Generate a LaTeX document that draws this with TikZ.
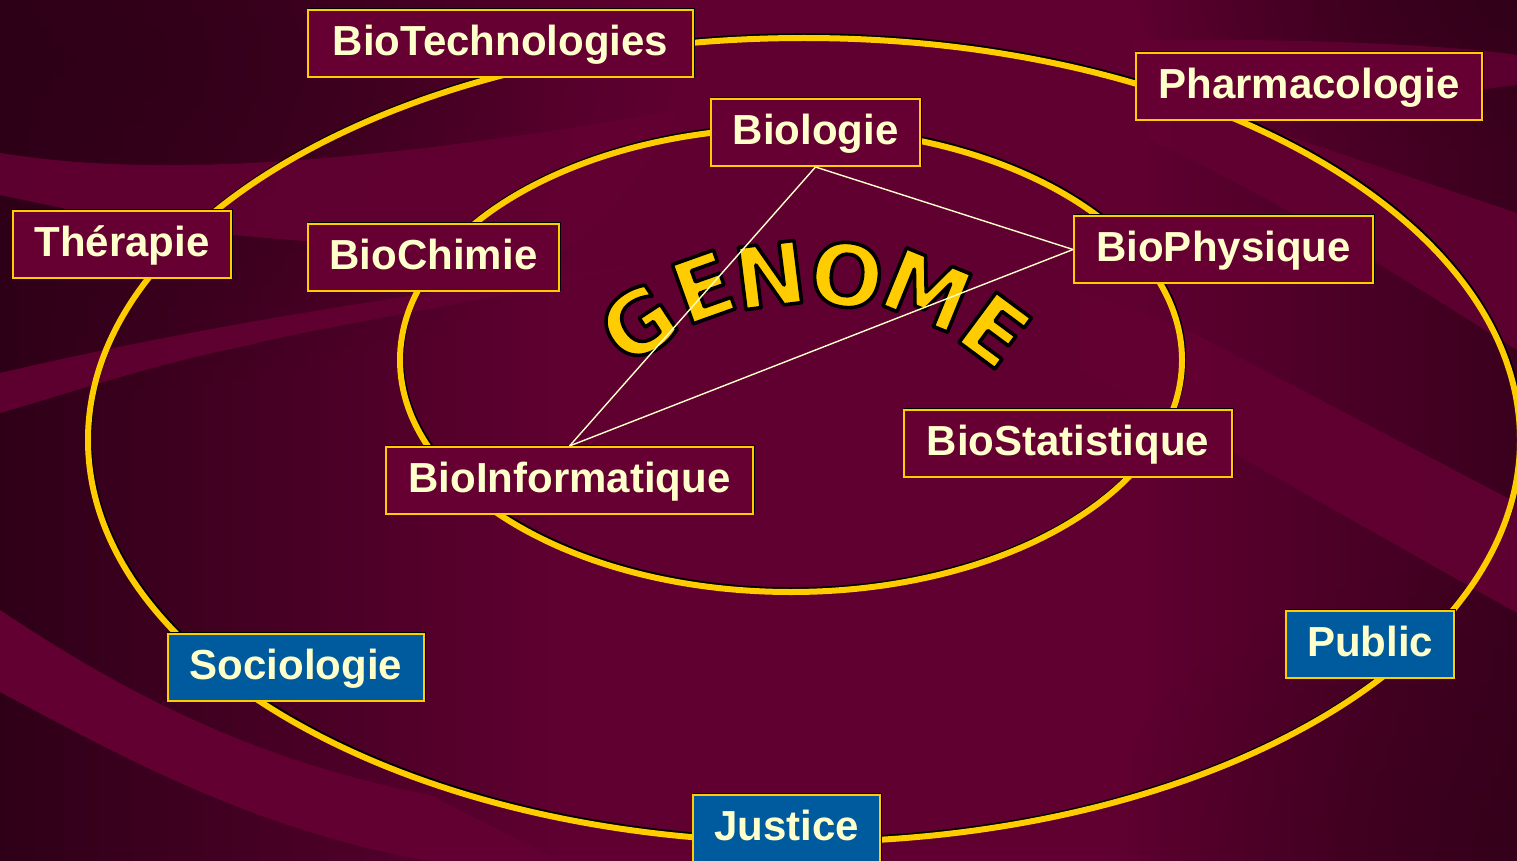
\documentclass[tikz,border=0pt]{standalone}
\usepackage{fontspec}
\usetikzlibrary{fadings}
\setmainfont{Liberation Sans}
\newfontfamily\genomefont{DejaVu Sans}
\definecolor{bgdark}{RGB}{46,0,23}
\definecolor{bgright}{RGB}{58,0,29}
\definecolor{bgmid}{RGB}{96,0,49}
\definecolor{band}{RGB}{98,0,50}
\definecolor{gold}{RGB}{255,204,0}
\definecolor{cream}{RGB}{255,255,204}
\definecolor{boxred}{RGB}{102,0,51}
\definecolor{boxblue}{RGB}{0,91,158}
% the path box spans 25bp..75bp of a shading
\pgfdeclarehorizontalshading{sweep}{100bp}{color(0bp)=(bgdark); color(25bp)=(bgdark);
  color(44bp)=(bgmid); color(62bp)=(bgmid); color(75bp)=(bgright); color(100bp)=(bgright)}
\tikzfading[name=softblob, inner color=transparent!0, outer color=transparent!100]
% outlined glyphs: fill in the current colour, stroke in black
\newcommand\outlined[1]{\special{pdf:literal direct 0 0 0 RG 3.6 w 1 j 2 Tr}#1\special{pdf:literal direct 0 Tr}}
\begin{document}
\begin{tikzpicture}[x=1pt,y=-1pt,
  field/.style={draw=gold, line width=2pt, fill=boxred, text=cream,
    font=\bfseries\fontsize{42}{50}\selectfont, minimum height=67pt, inner sep=0pt,
    text height=30pt, text depth=6pt,
    preaction={draw=black, line width=2pt, transform canvas={shift={(0.8pt,1.4pt)}}}},
  bluefield/.style={field, fill=boxblue},
  ringshadow/.style={draw=black, line width=6pt},
  ring/.style={draw=gold, line width=6pt},
  link/.style={draw=cream, line width=1.4pt},
  letter/.style={font=\genomefont\bfseries\fontsize{86}{90}\selectfont, inner sep=0pt, text=gold},
  ribbon/.style={fill=band},
  shade blob/.style={fill=bgdark, path fading=softblob}]
\useasboundingbox (0,0) rectangle (1517,861);
\begin{scope}
\clip (0,0) rectangle (1517,861);
% background: bright centre, dark sides and corners, light ribbons
\shade[shading=sweep] (0,0) rectangle (1517,861);
\fill[shade blob, opacity=0.85] (80,60) ellipse [x radius=620, y radius=330];
\fill[shade blob, opacity=0.7] (1517,0) ellipse [x radius=380, y radius=150];
\fill[shade blob, opacity=0.5] (1517,861) ellipse [x radius=420, y radius=300];
\fill[ribbon, opacity=0.9] (0,153) .. controls (120,172) and (300,176) .. (680,110)
  .. controls (640,180) and (600,230) .. (560,252)
  .. controls (420,250) and (250,240) .. (150,225) .. controls (90,215) and (40,203) .. (0,195) -- cycle;
\fill[ribbon, opacity=0.9] (0,373) .. controls (150,338) and (350,300) .. (640,265)
  .. controls (500,300) and (300,330) .. (250,345) .. controls (150,365) and (80,390) .. (0,413) -- cycle;
\fill[ribbon] (0,610) .. controls (120,690) and (250,760) .. (430,795) -- (560,861) -- (430,861)
  .. controls (250,830) and (110,750) .. (0,692) -- cycle;
\fill[ribbon, opacity=0.85] (1130,40) .. controls (1300,38) and (1450,45) .. (1517,55) -- (1517,85)
  -- (1240,120) -- (1517,213) -- (1517,350) .. controls (1420,290) and (1300,210) .. (1150,140) -- cycle;
\fill[ribbon, opacity=0.9] (1080,290) -- (1193,333) -- (1517,503) -- (1517,613) -- (1233,453)
  -- (1080,370) -- cycle;

% rings with a thin shadow above
\draw[ringshadow] ([shift={(1,-1.8)}]804,440) ellipse [x radius=716, y radius=402];
\draw[ringshadow] ([shift={(1,-1.8)}]791,360) ellipse [x radius=391, y radius=232];
\draw[ring] (804,440) ellipse [x radius=716, y radius=402];
\draw[ring] (791,360) ellipse [x radius=391, y radius=232];

% arched title
\foreach \ch/\px/\py/\rot [count=\i] in {G/638/323/33.3, E/703/287/19.6, N/770/275/7.1,
    O/847/275/-7.2, M/927/290/-22.2, E/995/330/-36.6}
  \node[letter, rotate=\rot] (gl\i) at (\px,\py) {\outlined{\ch}};

% fields
\node[field, minimum width=385pt] (biotech) at (500.5,43.5) {BioTechnologies};
\node[field, minimum width=346pt] (pharma) at (1309,87) {Pharmacologie};
\node[field, minimum width=209pt] (biologie) at (815.5,132.5) {Biologie};
\node[field, minimum width=218pt] (therapie) at (122,244.5) {Thérapie};
\node[field, minimum width=251pt] (biochimie) at (433.5,257.5) {BioChimie};
\node[field, minimum width=299pt] (biophys) at (1223.5,249.5) {BioPhysique};
\node[field, minimum width=328pt] (biostat) at (1068,443.5) {BioStatistique};
\node[field, minimum width=367pt] (bioinfo) at (569.5,480.5) {BioInformatique};
\node[bluefield, minimum width=256pt] (socio) at (296,667.5) {Sociologie};
\node[bluefield, minimum width=168pt] (public) at (1370,644.5) {Public};
\node[bluefield, minimum width=187pt] (justice) at (786.5,828.5) {Justice};

% links
\draw[link] (biologie.south) -- (bioinfo.north);
\draw[link] (biologie.south) -- (biophys.west);
\draw[link] (biophys.west) -- (bioinfo.north);
\end{scope}
\end{tikzpicture}
\end{document}
